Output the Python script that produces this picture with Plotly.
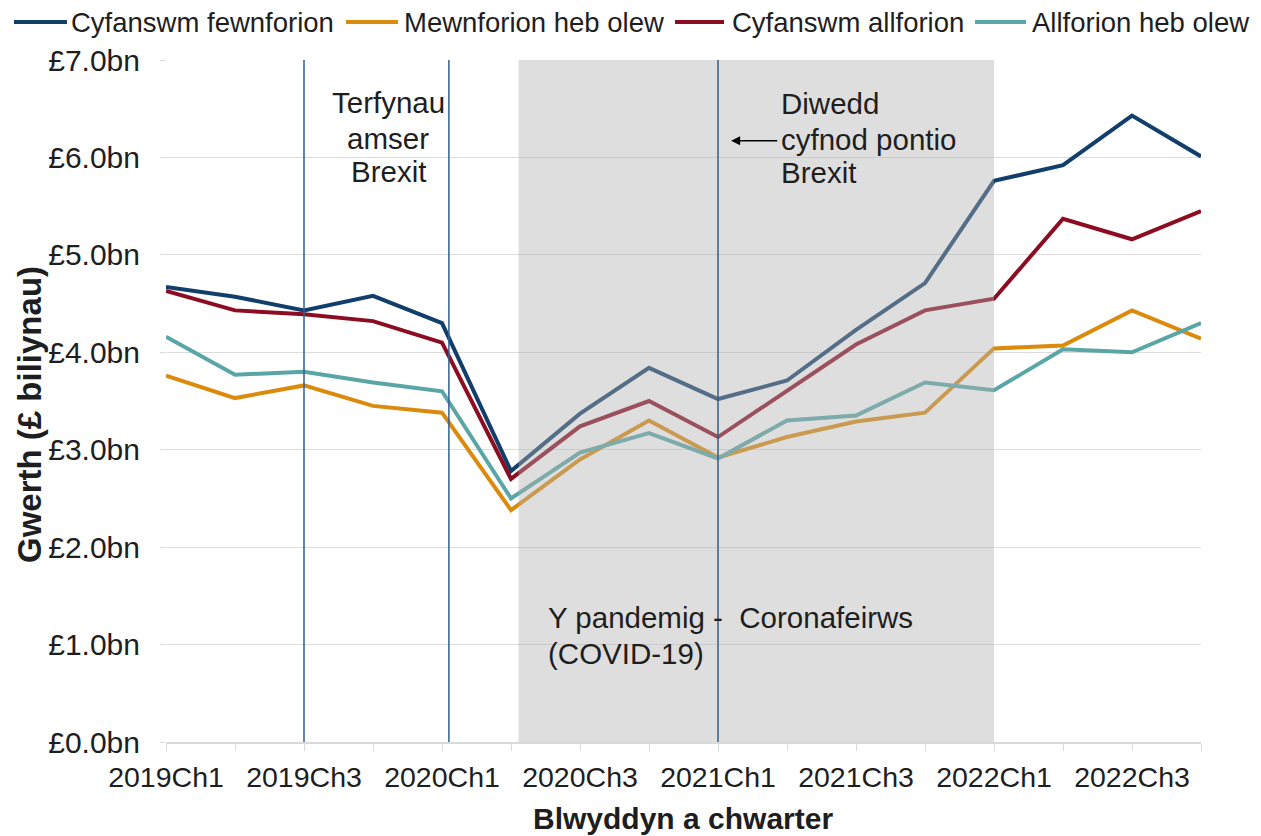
import plotly.graph_objects as go

quarters = ["2019Ch1", "2019Ch2", "2019Ch3", "2019Ch4",
            "2020Ch1", "2020Ch2", "2020Ch3", "2020Ch4",
            "2021Ch1", "2021Ch2", "2021Ch3", "2021Ch4",
            "2022Ch1", "2022Ch2", "2022Ch3", "2022Ch4"]
tick_labels = [q if i % 2 == 0 else "" for i, q in enumerate(quarters)]

cyfanswm_fewnforion = [4.67, 4.57, 4.43, 4.58, 4.30, 2.78, 3.37, 3.84,
                       3.52, 3.71, 4.23, 4.71, 5.76, 5.92, 6.43, 6.01]
mewnforion_heb_olew = [3.76, 3.53, 3.66, 3.45, 3.38, 2.38, 2.90, 3.30,
                       2.92, 3.13, 3.29, 3.38, 4.04, 4.07, 4.43, 4.14]
cyfanswm_allforion = [4.63, 4.43, 4.39, 4.32, 4.10, 2.70, 3.24, 3.50,
                      3.13, 3.60, 4.08, 4.43, 4.55, 5.37, 5.16, 5.45]
allforion_heb_olew = [4.16, 3.77, 3.80, 3.69, 3.60, 2.50, 2.97, 3.17,
                      2.91, 3.30, 3.35, 3.69, 3.61, 4.03, 4.00, 4.30]

series_names = ["Cyfanswm fewnforion", "Mewnforion heb olew",
                "Cyfanswm allforion", "Allforion heb olew"]
series_values = [cyfanswm_fewnforion, mewnforion_heb_olew,
                 cyfanswm_allforion, allforion_heb_olew]
series_colors = ["#123e6b", "#dc8a0c", "#8c0d22", "#5aa6a6"]

y_ticks = [0, 1, 2, 3, 4, 5, 6, 7]
y_ticktext = ["£%.1fbn" % v for v in y_ticks]

brexit_deadline_lines = ["Terfynau", "amser", "Brexit"]
transition_end_lines = ["Diwedd", "cyfnod pontio", "Brexit"]
pandemic_lines = ["Y pandemig - \u00a0Coronafeirws", "(COVID-19)"]

FONT = "Liberation Sans, Arial, sans-serif"
TXT = "#1e1e1e"
OFF = 8  # default page body margin
W, H = 1261 - OFF, 836 - OFF
ML, MR, MT, MB = 166 - OFF, 60, 60 - OFF, 94
PW = W - ML - MR
PH = H - MT - MB


def px_x(px):
    return (px - OFF - ML) / PW


def px_y(py):
    return 1 - (py - OFF - MT) / PH


fig = go.Figure()
for name, vals, col in zip(series_names, series_values, series_colors):
    fig.add_trace(go.Scatter(x=quarters, y=vals, name=name, mode="lines",
                             line=dict(color=col, width=4), showlegend=False))

# shaded pandemic period (drawn above lines, semi-transparent)
fig.add_shape(type="rect", xref="x", yref="y", x0=5.11, x1=12, y0=0, y1=7,
              fillcolor="rgba(176,176,176,0.42)", line=dict(width=0), layer="above")
# vertical marker lines
for xv in [2, 4.1, 8]:
    fig.add_shape(type="line", xref="x", yref="y", x0=xv, x1=xv, y0=0, y1=7,
                  line=dict(color="#2f5f8c", width=1.5), layer="above")

ANN = 29.5
for txt, py in zip(brexit_deadline_lines, [103, 138, 172]):
    fig.add_annotation(x=3.22, y=px_y(py), xref="x", yref="paper", showarrow=False,
                       text=txt, xanchor="center", yanchor="middle",
                       font=dict(size=ANN, color=TXT, family=FONT))
for txt, py in zip(transition_end_lines, [104, 139, 173]):
    fig.add_annotation(x=8.89, y=px_y(py), xref="x", yref="paper", showarrow=False,
                       text=txt, xanchor="left", yanchor="middle",
                       font=dict(size=ANN, color=TXT, family=FONT))
for txt, py in zip(pandemic_lines, [617, 653]):
    fig.add_annotation(x=5.51, y=px_y(py), xref="x", yref="paper", showarrow=False,
                       text=txt, xanchor="left", yanchor="middle",
                       font=dict(size=ANN, color=TXT, family=FONT))
fig.add_annotation(x=8.19, y=6.17, ax=8.88, ay=6.17, xref="x", yref="y",
                   axref="x", ayref="y", text="", showarrow=True,
                   arrowhead=2, arrowsize=1.2, arrowwidth=1.5, arrowcolor="#000000")

# legend (top row)
leg_line_x = [(14, 67), (346, 398), (675, 724), (975, 1026)]
leg_text_x = [69, 402, 730, 1030]
LEG_Y = 22
for name, col, (a, b), tx in zip(series_names, series_colors, leg_line_x, leg_text_x):
    fig.add_shape(type="line", xref="paper", yref="paper",
                  x0=px_x(a), x1=px_x(b), y0=px_y(LEG_Y), y1=px_y(LEG_Y),
                  line=dict(color=col, width=4))
    fig.add_annotation(x=px_x(tx), y=px_y(LEG_Y), xref="paper", yref="paper",
                       xanchor="left", yanchor="middle", showarrow=False, text=name,
                       font=dict(size=27.5, color=TXT, family=FONT))

# axis titles
fig.add_annotation(x=px_x(683), y=px_y(819), xref="paper", yref="paper",
                   showarrow=False, text="<b>Blwyddyn a chwarter</b>",
                   xanchor="center", yanchor="middle",
                   font=dict(size=30, color=TXT, family=FONT))
fig.add_annotation(x=px_x(29), y=px_y(415), xref="paper", yref="paper",
                   showarrow=False, text="<b>Gwerth (£ biliynau)</b>", textangle=-90,
                   xanchor="center", yanchor="middle",
                   font=dict(size=33, color=TXT, family=FONT))

fig.update_layout(
    width=W, height=H,
    margin=dict(l=ML, r=MR, t=MT, b=MB),
    paper_bgcolor="white", plot_bgcolor="white",
    font=dict(family=FONT, size=28, color=TXT),
    showlegend=False,
    xaxis=dict(type="category", range=[0, 15], tickmode="array",
               tickvals=quarters, ticktext=tick_labels, ticks="outside",
               ticklen=7, tickcolor="#d9d9d9", showline=True, linecolor="#d9d9d9",
               linewidth=2, showgrid=False, zeroline=False, automargin=False,
               ticklabelstandoff=2,
               tickfont=dict(size=28.5, color=TXT, family=FONT)),
    yaxis=dict(range=[0, 7], tickmode="array", tickvals=y_ticks, ticktext=y_ticktext,
               ticks="outside", ticklen=5, tickcolor="#d9d9d9", showline=False,
               showgrid=True, gridcolor="#dcdcdc", gridwidth=1, zeroline=False,
               automargin=False, ticklabelstandoff=14,
               tickfont=dict(size=30, color=TXT, family=FONT)),
)

fig.write_html("out.html")
